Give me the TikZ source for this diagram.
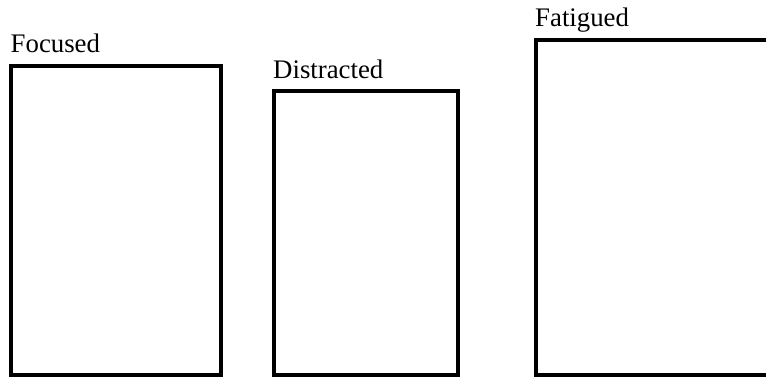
\documentclass[tikz,border=0pt]{standalone}
\usepackage{fontspec}
\setmainfont{Liberation Serif}
\begin{document}
\begin{tikzpicture}[x=1bp,y=-1bp,
  panel/.style={draw=black,line width=4bp,fill=none},
  caption/.style={anchor=base west,inner sep=0pt,font=\fontsize{26.8bp}{30bp}\selectfont,text=black}]
\useasboundingbox (0,0) rectangle (766,378);
\clip (0,0) rectangle (766,378);
% state panels
\draw[panel] (11,66) rectangle (221,375);
\draw[panel] (273.7,91.3) rectangle (458,375);
\draw[panel] (536,40) rectangle (800,375);
% captions
\node[caption] (focused) at (10.5,52.7) {Focused};
\node[caption] (distracted) at (273,78.3) {Distracted};
\node[caption] (fatigued) at (535,26) {Fatigued};
\end{tikzpicture}
\end{document}
